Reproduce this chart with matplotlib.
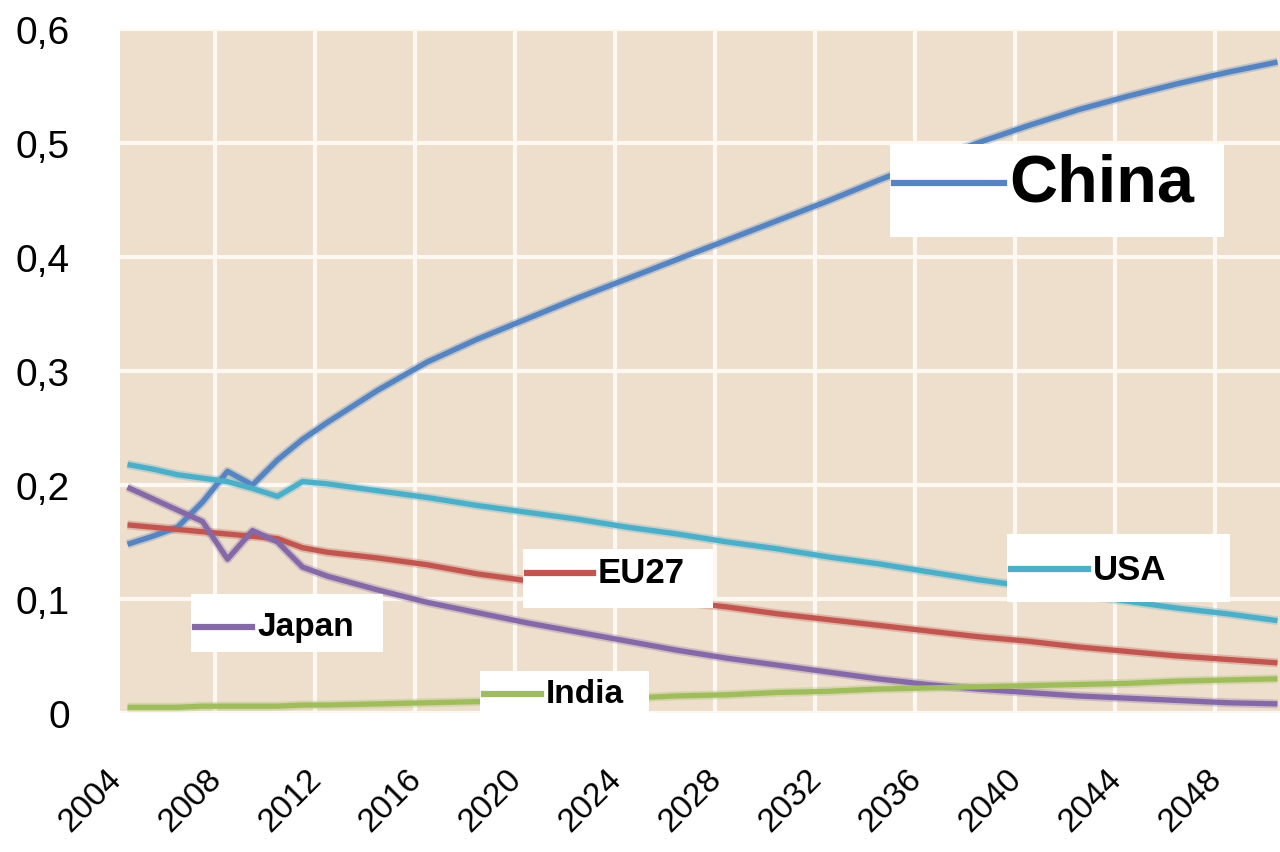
import matplotlib.pyplot as plt
from matplotlib.patches import Rectangle
from matplotlib.lines import Line2D

plt.rcParams['font.family'] = ['Liberation Sans', 'DejaVu Sans']

# data (share of world total)
years = [2004, 2005, 2006, 2007, 2008, 2009, 2010, 2011, 2012,
         2014, 2016, 2018, 2020, 2022, 2024, 2026, 2028, 2030, 2032,
         2034, 2036, 2038, 2040, 2042, 2044, 2046, 2048, 2050]

china = [0.148, 0.155, 0.163, 0.185, 0.212, 0.200, 0.222, 0.240, 0.255,
         0.283, 0.308, 0.328, 0.346, 0.364, 0.381, 0.398, 0.415, 0.432, 0.449,
         0.467, 0.484, 0.500, 0.515, 0.529, 0.541, 0.552, 0.562, 0.571]
usa = [0.218, 0.214, 0.209, 0.206, 0.203, 0.197, 0.190, 0.203, 0.201,
       0.195, 0.189, 0.182, 0.176, 0.170, 0.163, 0.157, 0.150, 0.144, 0.137,
       0.131, 0.124, 0.117, 0.111, 0.104, 0.098, 0.092, 0.087, 0.081]
eu27 = [0.165, 0.163, 0.161, 0.159, 0.157, 0.155, 0.153, 0.145, 0.141,
        0.136, 0.130, 0.122, 0.116, 0.110, 0.104, 0.098, 0.093, 0.087, 0.082,
        0.077, 0.072, 0.067, 0.063, 0.058, 0.054, 0.050, 0.047, 0.044]
japan = [0.198, 0.188, 0.178, 0.168, 0.135, 0.160, 0.150, 0.128, 0.120,
         0.108, 0.097, 0.088, 0.079, 0.071, 0.063, 0.055, 0.048, 0.042, 0.036,
         0.030, 0.025, 0.021, 0.018, 0.015, 0.013, 0.011, 0.009, 0.008]
india = [0.005, 0.005, 0.005, 0.006, 0.006, 0.006, 0.006, 0.007, 0.007,
         0.008, 0.009, 0.010, 0.011, 0.012, 0.013, 0.015, 0.016, 0.018, 0.019,
         0.021, 0.022, 0.023, 0.024, 0.025, 0.026, 0.028, 0.029, 0.030]

x_ticks = list(range(2004, 2049, 4))
y_ticks = [0, 0.1, 0.2, 0.3, 0.4, 0.5, 0.6]
y_labels = ['0', '0,1', '0,2', '0,3', '0,4', '0,5', '0,6']

series = [
    ('China', china, '#5584c0'),
    ('USA', usa, '#4daec8'),
    ('EU27', eu27, '#c0564f'),
    ('Japan', japan, '#8568a6'),
    ('India', india, '#9fbd5d'),
]

W, H = 1280, 853
fig = plt.figure(figsize=(W / 100, H / 100), dpi=100)
ax = fig.add_axes([120 / W, 1 - 714 / H, 1160 / W, 684 / H])
ax.set_facecolor('#eedfcd')

for name, vals, col in series:
    ax.plot(years, vals, color=col, lw=6.5, alpha=0.3, solid_capstyle='butt', zorder=3)
    ax.plot(years, vals, color=col, lw=3.8, solid_capstyle='butt', zorder=4)

ax.set_xlim(2003.7, 2050.1)
ax.set_ylim(0, 0.6)

# gridlines sit between categories
ax.set_xticks([t - 0.5 for t in range(2008, 2049, 4)], minor=True)
ax.set_xticks(x_ticks)
ax.set_xticklabels([str(t) for t in x_ticks], rotation=45, ha='right', va='top', fontsize=24)
ax.set_yticks(y_ticks)
ax.set_yticklabels(y_labels, fontsize=28)
ax.grid(True, which='minor', axis='x', color='#fdf8f2', lw=3)
ax.grid(True, which='major', axis='y', color='#fdf8f2', lw=3)
ax.tick_params(axis='both', which='both', length=0)
ax.tick_params(axis='y', pad=36)
ax.tick_params(axis='x', pad=36)
for s in ax.spines.values():
    s.set_visible(False)
ax.set_axisbelow(True)

# label boxes, in pixels: box (x0, y0, x1, y1), line end x, line y, font size
boxes = {
    'China': ((890, 145, 1224, 238), 1004, 184, 48),
    'USA': ((1007, 535, 1230, 603), 1088, 570, 25),
    'EU27': ((523, 550, 713, 609), 593, 574, 25),
    'Japan': ((191, 595, 383, 653), 252, 628, 24),
    'India': ((480, 672, 649, 715), 541, 695, 24),
}

for name, vals, col in series:
    (x0, y0, x1, y1), lx, ly, fs = boxes[name]
    fig.add_artist(Rectangle((x0 / W, 1 - y1 / H), (x1 - x0) / W, (y1 - y0) / H,
                             transform=fig.transFigure, facecolor='white',
                             edgecolor='none', zorder=5))
    fig.add_artist(Line2D([(x0 + 4) / W, lx / W], [1 - ly / H, 1 - ly / H],
                          transform=fig.transFigure, color=col, lw=4.5, zorder=6))
    fig.text((lx + 5) / W, 1 - ly / H, name, fontsize=fs, fontweight='bold',
             ha='left', va='center', color='black', zorder=7)

fig.savefig('out.png', dpi=100)
